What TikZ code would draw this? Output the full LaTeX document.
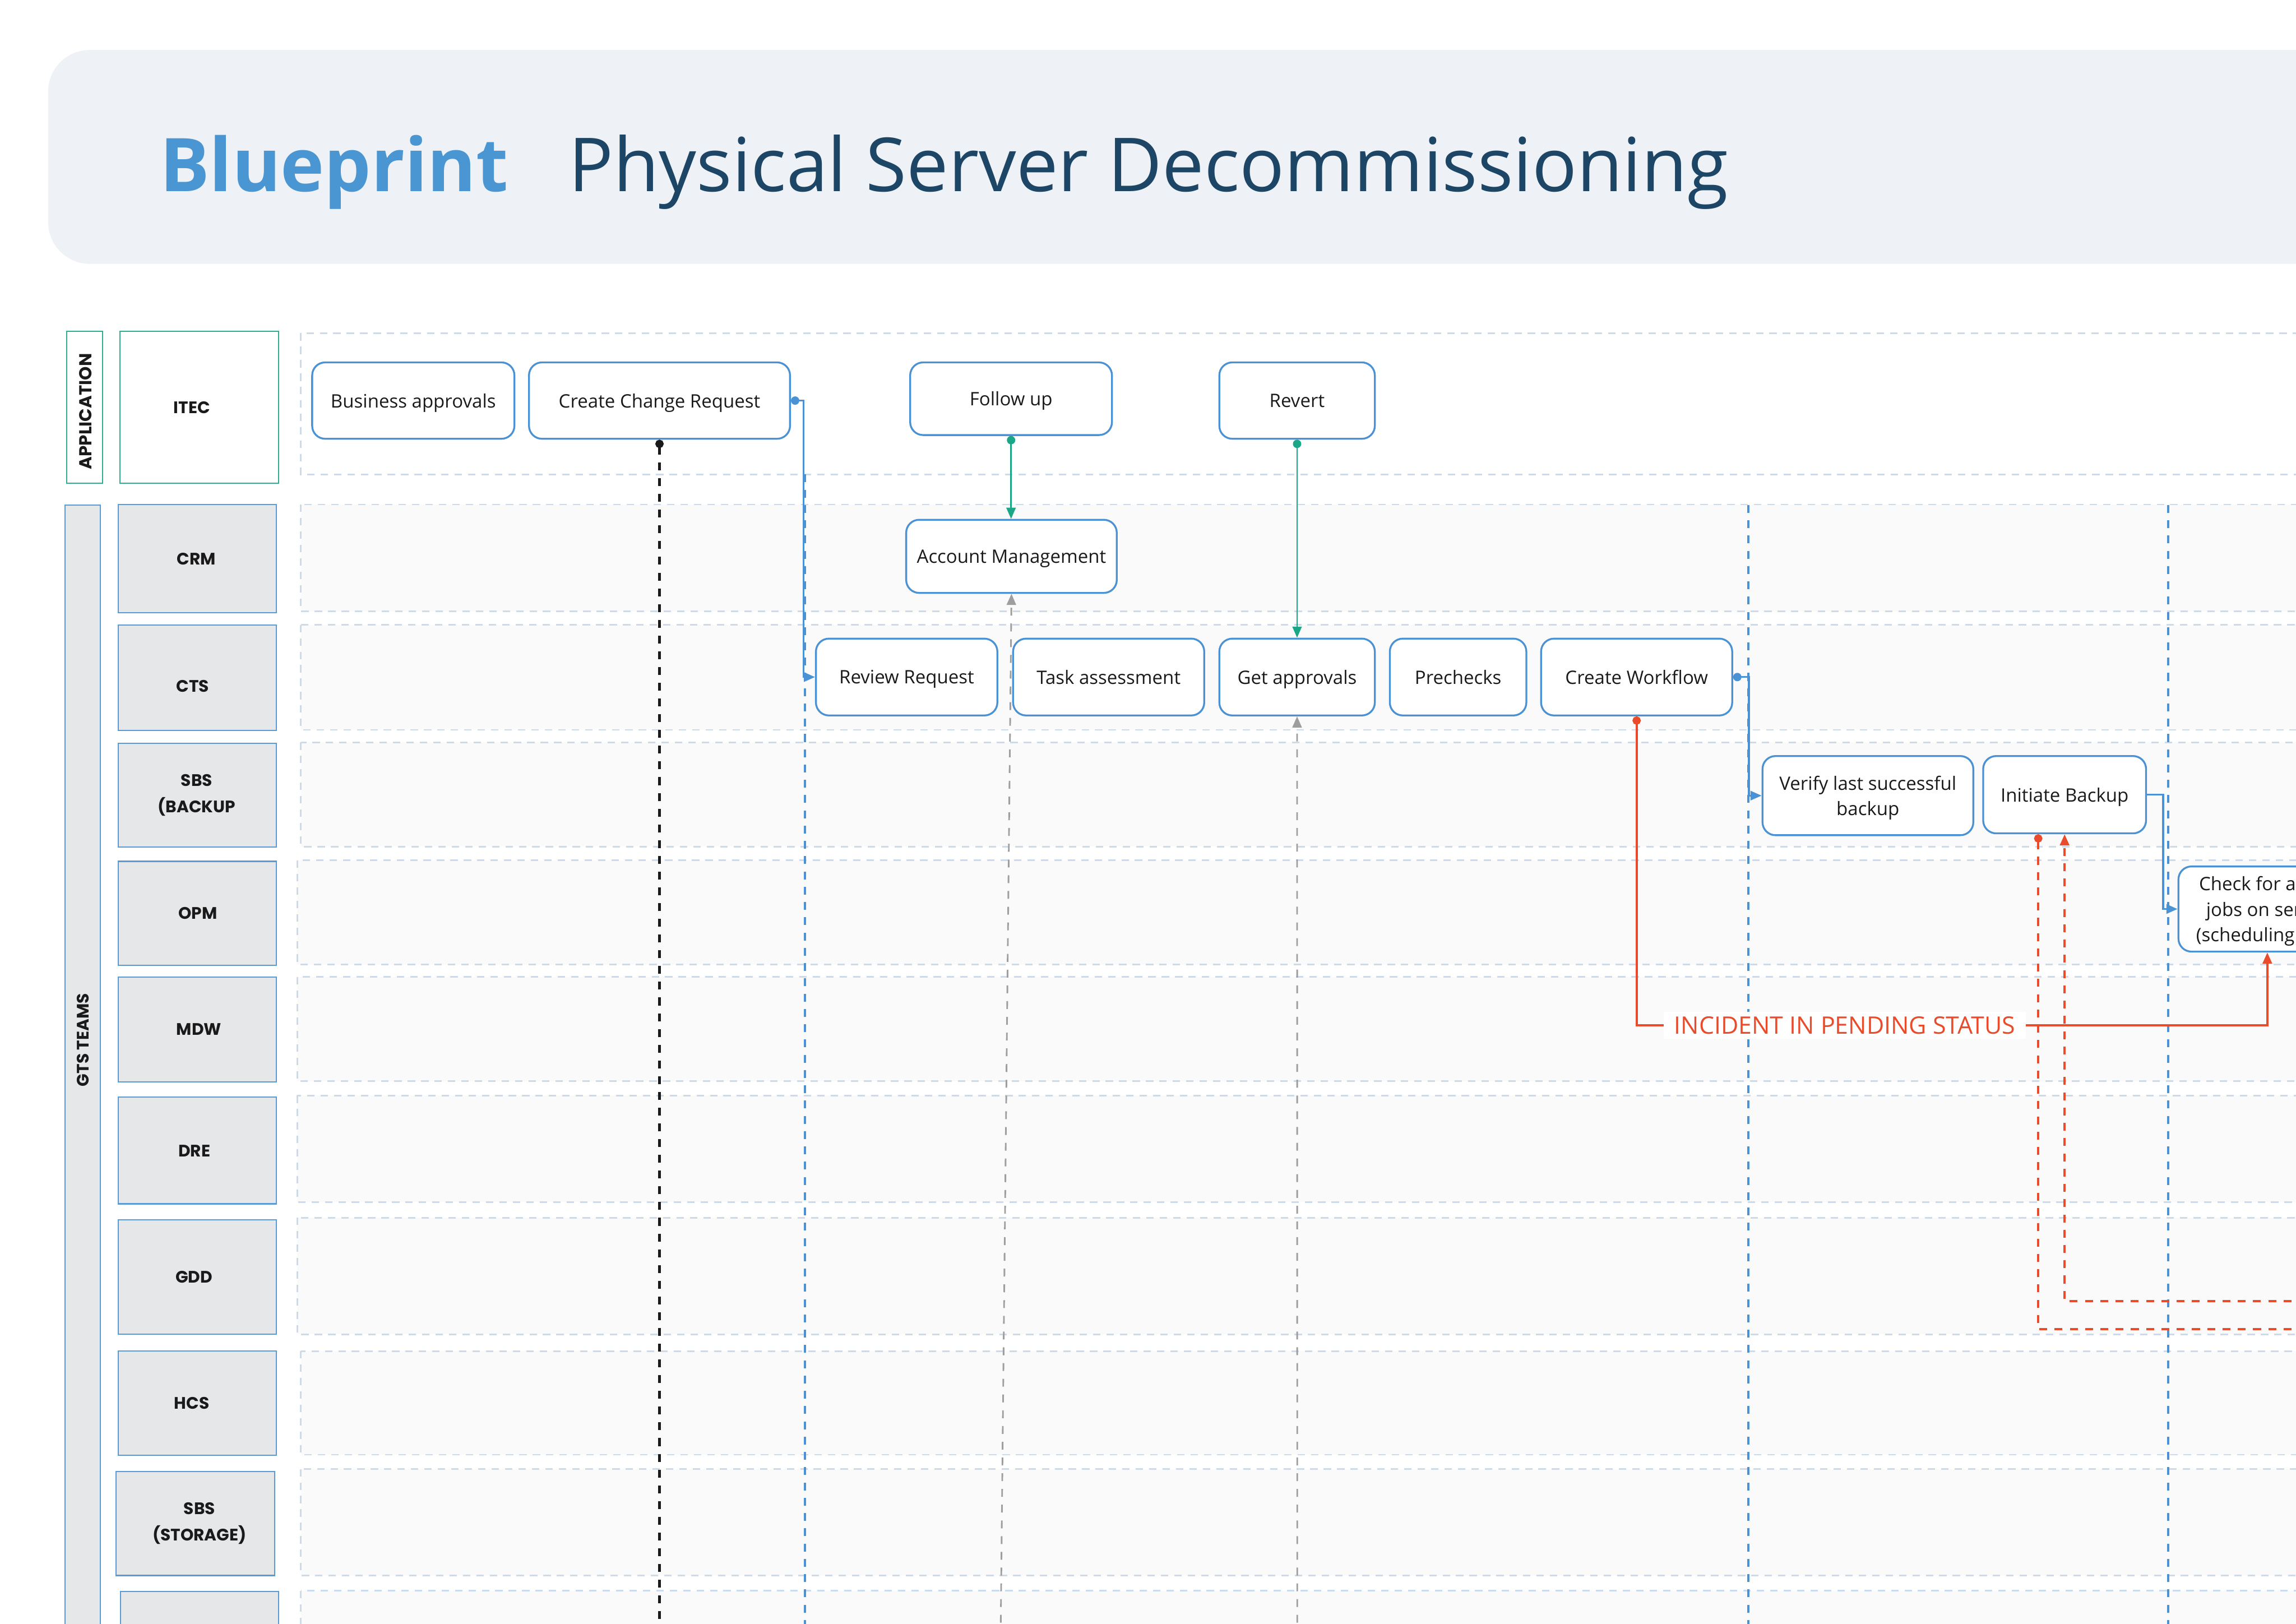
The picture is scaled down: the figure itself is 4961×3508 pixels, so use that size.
\documentclass[tikz,border=0pt]{standalone}
\usepackage{fontspec}
\setmainfont{Open Sans}
\newfontfamily\lanefont{Poppins}
\usetikzlibrary{arrows.meta,calc}

\definecolor{bannerfill}{HTML}{EEF2F7}
\definecolor{titleblue}{HTML}{4A96D2}
\definecolor{titlenavy}{HTML}{1D4566}
\definecolor{nodeblue}{HTML}{4A92D4}
\definecolor{laneline}{HTML}{CADBF0}
\definecolor{lanefill}{HTML}{FAFAFA}
\definecolor{lblgray}{HTML}{E6E7E9}
\definecolor{lblborder}{HTML}{5B9BD5}
\definecolor{tealborder}{HTML}{2EB08F}
\definecolor{greenconn}{HTML}{1BA688}
\definecolor{redconn}{HTML}{E94B2B}
\definecolor{grayconn}{HTML}{9E9E9E}
\definecolor{textdark}{HTML}{1A1A1A}

\tikzset{
  mytip/.tip={Triangle[length=24pt, width=20pt]},
  mydot/.tip={Circle[length=18pt]},
  proc/.style={draw=nodeblue, line width=4pt, rounded corners=28pt, fill=white,
    align=center, inner sep=0pt, text depth=0pt, text=textdark, font=\fontsize{40}{55}\selectfont},
  lanebg/.style={draw=laneline, line width=3.5pt, dash pattern=on 16pt off 13pt, fill=lanefill},
  lanebgw/.style={lanebg, fill=white},
  lblbox/.style={draw=lblborder, line width=2.5pt, fill=lblgray, inner sep=0pt},
  applbox/.style={draw=tealborder, line width=2.5pt, fill=white, inner sep=0pt},
  lbltext/.style={align=center, inner sep=0pt, text=textdark,
    font=\lanefont\bfseries\fontsize{36}{57}\selectfont},
  vtext/.style={lbltext, rotate=90},
  bluedivider/.style={draw=nodeblue, line width=4.5pt, dash pattern=on 17pt off 16pt},
  blueflow/.style={draw=nodeblue, line width=4pt},
  greenflow/.style={draw=greenconn, line width=3.5pt},
  redflow/.style={draw=redconn, line width=4.5pt},
  reddash/.style={draw=redconn, line width=4.5pt, dash pattern=on 17pt off 16pt},
  graydash/.style={draw=grayconn, line width=3.5pt, dash pattern=on 17pt off 17pt},
  blackdash/.style={draw=textdark, line width=5.5pt, dash pattern=on 17pt off 17pt},
  redlabel/.style={fill=white, text=redconn, inner xsep=23pt, inner ysep=10pt,
    font=\fontsize{52}{60}\selectfont},
}

\begin{document}
\begin{tikzpicture}[x=1pt, y=-1pt]
\useasboundingbox (0,0) rectangle (4961,3508);
\clip (0,0) rectangle (4961,3508);
\fill[white] (0,0) rectangle (4961,3508);

% title banner
\fill[bannerfill, rounded corners=90pt] (104,108) rectangle (5300,570);
\node[anchor=base west, inner sep=0pt, text=titleblue,
  font=\bfseries\fontsize{160}{190}\selectfont] (bp) at (345,414) {Blueprint};
\node[anchor=base west, inner sep=0pt, text=titlenavy,
  font=\fontsize{161}{190}\selectfont] (ttl) at (1228,414) {Physical Server Decommissioning};

% swim lanes
\draw[lanebgw] (650,720) rectangle (5100,1025.5);
\draw[lanebg] (650,1090) rectangle (5100,1321);
\draw[lanebg] (650,1350) rectangle (5100,1577);
\draw[lanebg] (650,1604) rectangle (5100,1829);
\draw[lanebg] (642,1859) rectangle (5100,2084);
\draw[lanebg] (642,2111) rectangle (5100,2336);
\draw[lanebg] (642,2367) rectangle (5100,2597);
\draw[lanebg] (642,2631) rectangle (5100,2883);
\draw[lanebg] (650,2919) rectangle (5100,3143);
\draw[lanebg] (650,3174) rectangle (5100,3404);
\draw[lanebg] (650,3437) rectangle (5100,3700);

% left headers
\node[applbox, minimum width=77pt, minimum height=328.5pt] (appl) at (183,880.3) {};
\node[vtext, font=\lanefont\bfseries\fontsize{37.5}{57}\selectfont] (applT) at (185,889) {APPLICATION};
\node[applbox, minimum width=343pt, minimum height=328.5pt] (itec) at (430.5,880.3) {};
\node[lbltext] (itecT) at (414.5,881) {ITEC};

\node[lblbox, minimum width=76pt, minimum height=2600pt, anchor=north] (gts) at (179,1090) {};
\node[vtext] (gtsT) at (179,2247) {GTS TEAMS};

\node[lblbox, minimum width=342.6pt, minimum height=234pt] (crm) at (426.3,1207) {};
\node[lbltext] (crmT) at (424,1208) {CRM};
\node[lblbox, minimum width=342.6pt, minimum height=228pt] (cts) at (426.3,1464) {};
\node[lbltext] (ctsT) at (416.5,1482) {CTS};
\node[lblbox, minimum width=342.6pt, minimum height=224pt] (sbsb) at (426.3,1718) {};
\node[lbltext] (sbsbT) at (425,1718) {SBS\\(BACKUP};
\node[lblbox, minimum width=342.6pt, minimum height=225pt] (opm) at (426.3,1973.5) {};
\node[lbltext] (opmT) at (427.6,1973) {OPM};
\node[lblbox, minimum width=342.6pt, minimum height=226pt] (mdw) at (426.3,2224) {};
\node[lbltext] (mdwT) at (430,2224) {MDW};
\node[lblbox, minimum width=342.6pt, minimum height=231pt] (dre) at (426.3,2485.5) {};
\node[lbltext] (dreT) at (420,2487) {DRE};
\node[lblbox, minimum width=342.6pt, minimum height=248pt] (gdd) at (426.3,2759) {};
\node[lbltext] (gddT) at (419,2759) {GDD};
\node[lblbox, minimum width=342.6pt, minimum height=225pt] (hcs) at (426.3,3031.5) {};
\node[lbltext] (hcsT) at (414.5,3031) {HCS};
\node[lblbox, minimum width=343.3pt, minimum height=225pt] (sto) at (422.3,3291.5) {};
\node[lbltext] (stoT) at (431,3291) {SBS\\(STORAGE)};
\node[lblbox, minimum width=341.5pt, minimum height=200pt, anchor=north] (lastlbl) at (431.3,3437.6) {};

% phase dividers
\draw[bluedivider] (1739,1025) -- (1739,3540);
\draw[bluedivider] (3778,1091) -- (3778,3540);
\draw[bluedivider] (4684.6,1091) -- (4684.6,3540);

% process nodes
\node[proc, minimum width=437pt, minimum height=165pt] (BA) at (893,865.5) {Business approvals};
\node[proc, minimum width=564pt, minimum height=165pt] (CCR) at (1425,865.5) {Create Change Request};
\node[proc, minimum width=436pt, minimum height=157pt] (FU) at (2184.6,861.5) {Follow up};
\node[proc, minimum width=336pt, minimum height=165pt] (RV) at (2802.6,865.5) {Revert};
\node[proc, minimum width=455pt, minimum height=158pt] (AM) at (2185.5,1202) {Account Management};
\node[proc, minimum width=392pt, minimum height=166pt] (RR) at (1959,1462.8) {Review Request};
\node[proc, minimum width=413pt, minimum height=166pt] (TA) at (2395.5,1462.8) {Task assessment};
\node[proc, minimum width=336pt, minimum height=166pt] (GA) at (2802.6,1462.8) {Get approvals};
\node[proc, minimum width=295pt, minimum height=166pt] (PC) at (3150.5,1462.8) {Prechecks};
\node[proc, minimum width=413pt, minimum height=166pt] (CW) at (3536.3,1462.8) {Create Workflow};
\node[proc, minimum width=455.5pt, minimum height=171pt] (VB) at (4036,1719) {Verify last successful\\backup};
\node[proc, minimum width=352pt, minimum height=167pt] (IB) at (4461,1717) {Initiate Backup};
\node[proc, minimum width=384pt, minimum height=184pt] (CK) at (4899,1964) {Check for active\\jobs on server\\(scheduling tool)};

% free ends
\coordinate (bkEnd) at (1425,3540);
\coordinate (gAstart) at (2162,3540);
\coordinate (gBstart) at (2803,3540);
\coordinate (rTurn) at (3536.3,2215);
\coordinate (rdA) at (5050,2872);
\coordinate (rdB) at (5050,2811);

% connectors
\draw[blackdash, {mydot}-] (CCR.south) -- (bkEnd);
\draw[blueflow, {mydot}-{mytip}] (CCR.east) -- ++(27,0) |- (RR.west);
\draw[greenflow, {mydot}-{mytip}] (FU.south) -- (FU.south |- AM.north);
\draw[greenflow, {mydot}-{mytip}] (RV.south) -- (GA.north);
\draw[graydash, -{mytip}] (gAstart) -- (AM.south);
\draw[graydash, -{mytip}] (gBstart) -- (GA.south);
\draw[blueflow, {mydot}-{mytip}] (CW.east) -- ++(34,0) |- (VB.west);
\draw[blueflow, -{mytip}] (IB.east) -- ++(35,0) |- (CK.west);
\draw[redflow, {mydot}-{mytip}] (CW.south) -- (rTurn)
  -- node[pos=0.33, redlabel] (incl) {INCIDENT IN PENDING STATUS} (rTurn -| CK.south) -- (CK.south);
\draw[reddash, {mydot}-] ($(IB.south)+(-57,0)$) |- (rdA);
\draw[reddash, -{mytip}] (rdB) -| (IB.south);
\end{tikzpicture}
\end{document}
